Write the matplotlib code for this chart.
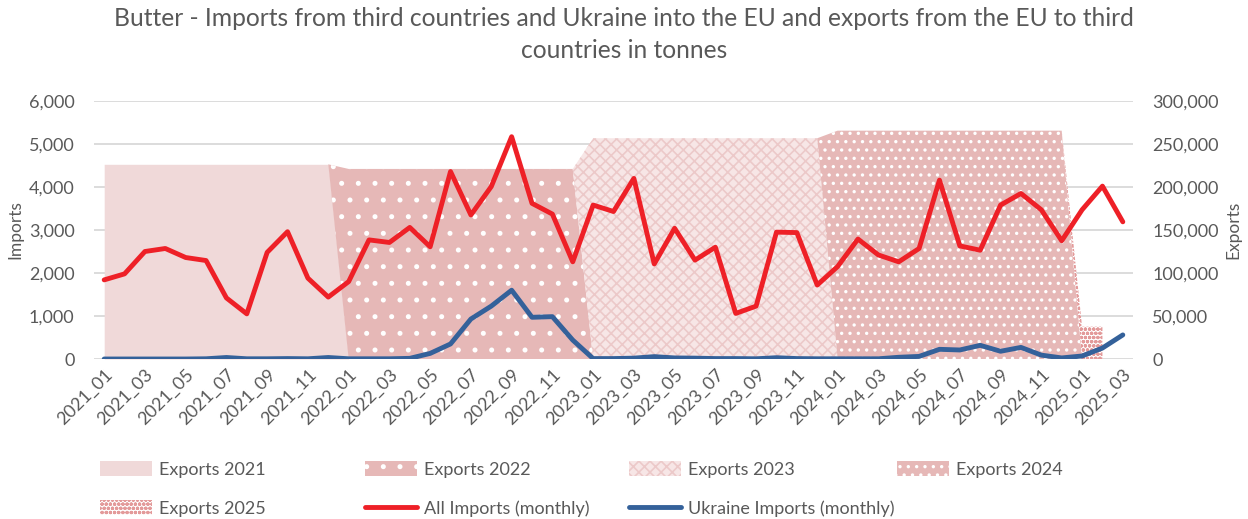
import numpy as np
import matplotlib as mpl
import matplotlib.pyplot as plt
from matplotlib.ticker import FuncFormatter
from matplotlib.patches import Patch
from matplotlib.lines import Line2D

# months 2021_01 .. 2025_03
months = [f"{y}_{m:02d}" for y in range(2021, 2026) for m in range(1, 13)][:51]

all_imports = [1840, 1980, 2500, 2570, 2360, 2290, 1420, 1050, 2480, 2960, 1880, 1440,
               1800, 2770, 2710, 3060, 2610, 4360, 3350, 4010, 5170, 3620, 3370, 2260,
               3580, 3430, 4200, 2210, 3040, 2300, 2600, 1060, 1230, 2950, 2940, 1720,
               2150, 2790, 2420, 2260, 2570, 4160, 2630, 2530, 3580, 3850, 3470, 2750,
               3470, 4020, 3190]

ukraine_imports = [0, 0, 0, 0, 0, 5, 35, 5, 5, 10, 5, 35,
                   5, 5, 5, 15, 130, 350, 930, 1230, 1600, 970, 985, 440,
                   10, 10, 20, 55, 25, 20, 10, 10, 5, 30, 10, 5,
                   5, 5, 5, 40, 60, 225, 210, 318, 180, 270, 90, 25,
                   70, 255, 560]

export_years = [2021, 2022, 2023, 2024, 2025]
export_levels = [226400, 221000, 256700, 265500, 37600]
export_months_2025 = 2  # exports only reported for Jan and Feb 2025

mpl.rcParams['font.family'] = ['Lato', 'DejaVu Sans']
mpl.rcParams['hatch.linewidth'] = 1.2
txt = '#595959'
W, H = 1248, 519

fig = plt.figure(figsize=(W / 100, H / 100), dpi=100)
ax = fig.add_axes([94 / W, 1 - 359 / H, (1133 - 94) / W, (359 - 101) / H])
ax2 = ax.twinx()

x = np.arange(len(months))

# stacked export areas, one per year
styles = [
    dict(facecolor='#f0d9d9', edgecolor='#f0d9d9', hatch=None),
    dict(facecolor='#e6b8b7', edgecolor='white', hatch='.'),
    dict(facecolor='#f7e6e6', edgecolor='#ecc9c9', hatch='xxx'),
    dict(facecolor='#e6b8b7', edgecolor='white', hatch='..'),
    dict(facecolor='white', edgecolor='#e39a9a', hatch='oooo'),
]
base = np.zeros(len(months))
handles = []
for yr, lvl, st in zip(export_years, export_levels, styles):
    s = np.zeros(len(months))
    idx = [i for i, m in enumerate(months) if m.startswith(str(yr))]
    if yr == 2025:
        idx = idx[:export_months_2025]
    s[idx] = lvl
    lo = max(idx[0] - 1, 0)
    hi = idx[-1] + 1 if yr != 2025 else idx[-1]
    hi = min(hi, len(months) - 1)
    sl = slice(lo, hi + 1)
    ax2.fill_between(x[sl], base[sl], base[sl] + s[sl], linewidth=0, zorder=2, **st)
    handles.append(Patch(label=f'Exports {yr}', linewidth=0, **st))
    base = base + s

ax2.set_ylim(0, 300000)
ax2.set_yticks(np.arange(0, 300001, 50000))
ax2.yaxis.set_major_formatter(FuncFormatter(lambda v, p: f'{int(v):,}'))
ax2.set_axisbelow(True)
ax2.yaxis.grid(True, color='#d9d9d9', linewidth=1.3, zorder=0)
ax2.set_ylabel('Exports', color=txt, fontsize=12.5)
ax2.yaxis.set_label_coords((1225 - 94) / 1039, 0.5)

ax.plot(x, all_imports, color='#ee2027', linewidth=3.5, solid_capstyle='round',
        solid_joinstyle='round', zorder=5)
ax.plot(x, ukraine_imports, color='#34619a', linewidth=3.5, solid_capstyle='round',
        solid_joinstyle='round', zorder=5)
ax.set_zorder(ax2.get_zorder() + 1)
ax.patch.set_visible(False)

ax.set_xlim(-0.5, len(months) - 0.5)
ax.set_ylim(0, 6000)
ax.set_yticks(np.arange(0, 6001, 1000))
ax.yaxis.set_major_formatter(FuncFormatter(lambda v, p: f'{int(v):,}'))
ax.set_ylabel('Imports', color=txt, fontsize=12.5)
ax.yaxis.set_label_coords((23 - 94) / 1039, 0.5)
ax.set_xticks(x[::2])
ax.set_xticklabels(months[::2], rotation=45, ha='right', rotation_mode='anchor')

for a in (ax, ax2):
    for sp in a.spines.values():
        sp.set_visible(False)
    a.tick_params(axis='both', length=0, labelsize=13, colors=txt, pad=14)
ax.tick_params(axis='x', pad=5)

fig.text(0.5, 1 - 7 / H, 'Butter - Imports from third countries and Ukraine into the EU and exports from the EU to third\ncountries in tonnes',
         ha='center', va='top', fontsize=17.7, color=txt, linespacing=1.45)

line_all = Line2D([], [], color='#ee2027', linewidth=3.5, solid_capstyle='round', label='All Imports (monthly)')
line_ukr = Line2D([], [], color='#34619a', linewidth=3.5, solid_capstyle='round', label='Ukraine Imports (monthly)')
columns = [[handles[0], handles[4]], [handles[1], line_all], [handles[2], line_ukr], [handles[3]]]
col_x = [100, 365, 629, 897]
for cx, col in zip(col_x, columns):
    fig.legend(handles=col, loc='upper left', bbox_to_anchor=(cx / W, 1 - 461 / H),
               frameon=False, fontsize=13, labelcolor=txt, handlelength=2.9,
               handleheight=0.9, handletextpad=0.35, labelspacing=1.25,
               borderpad=0, borderaxespad=0)

fig.savefig('out.png', dpi=100)
